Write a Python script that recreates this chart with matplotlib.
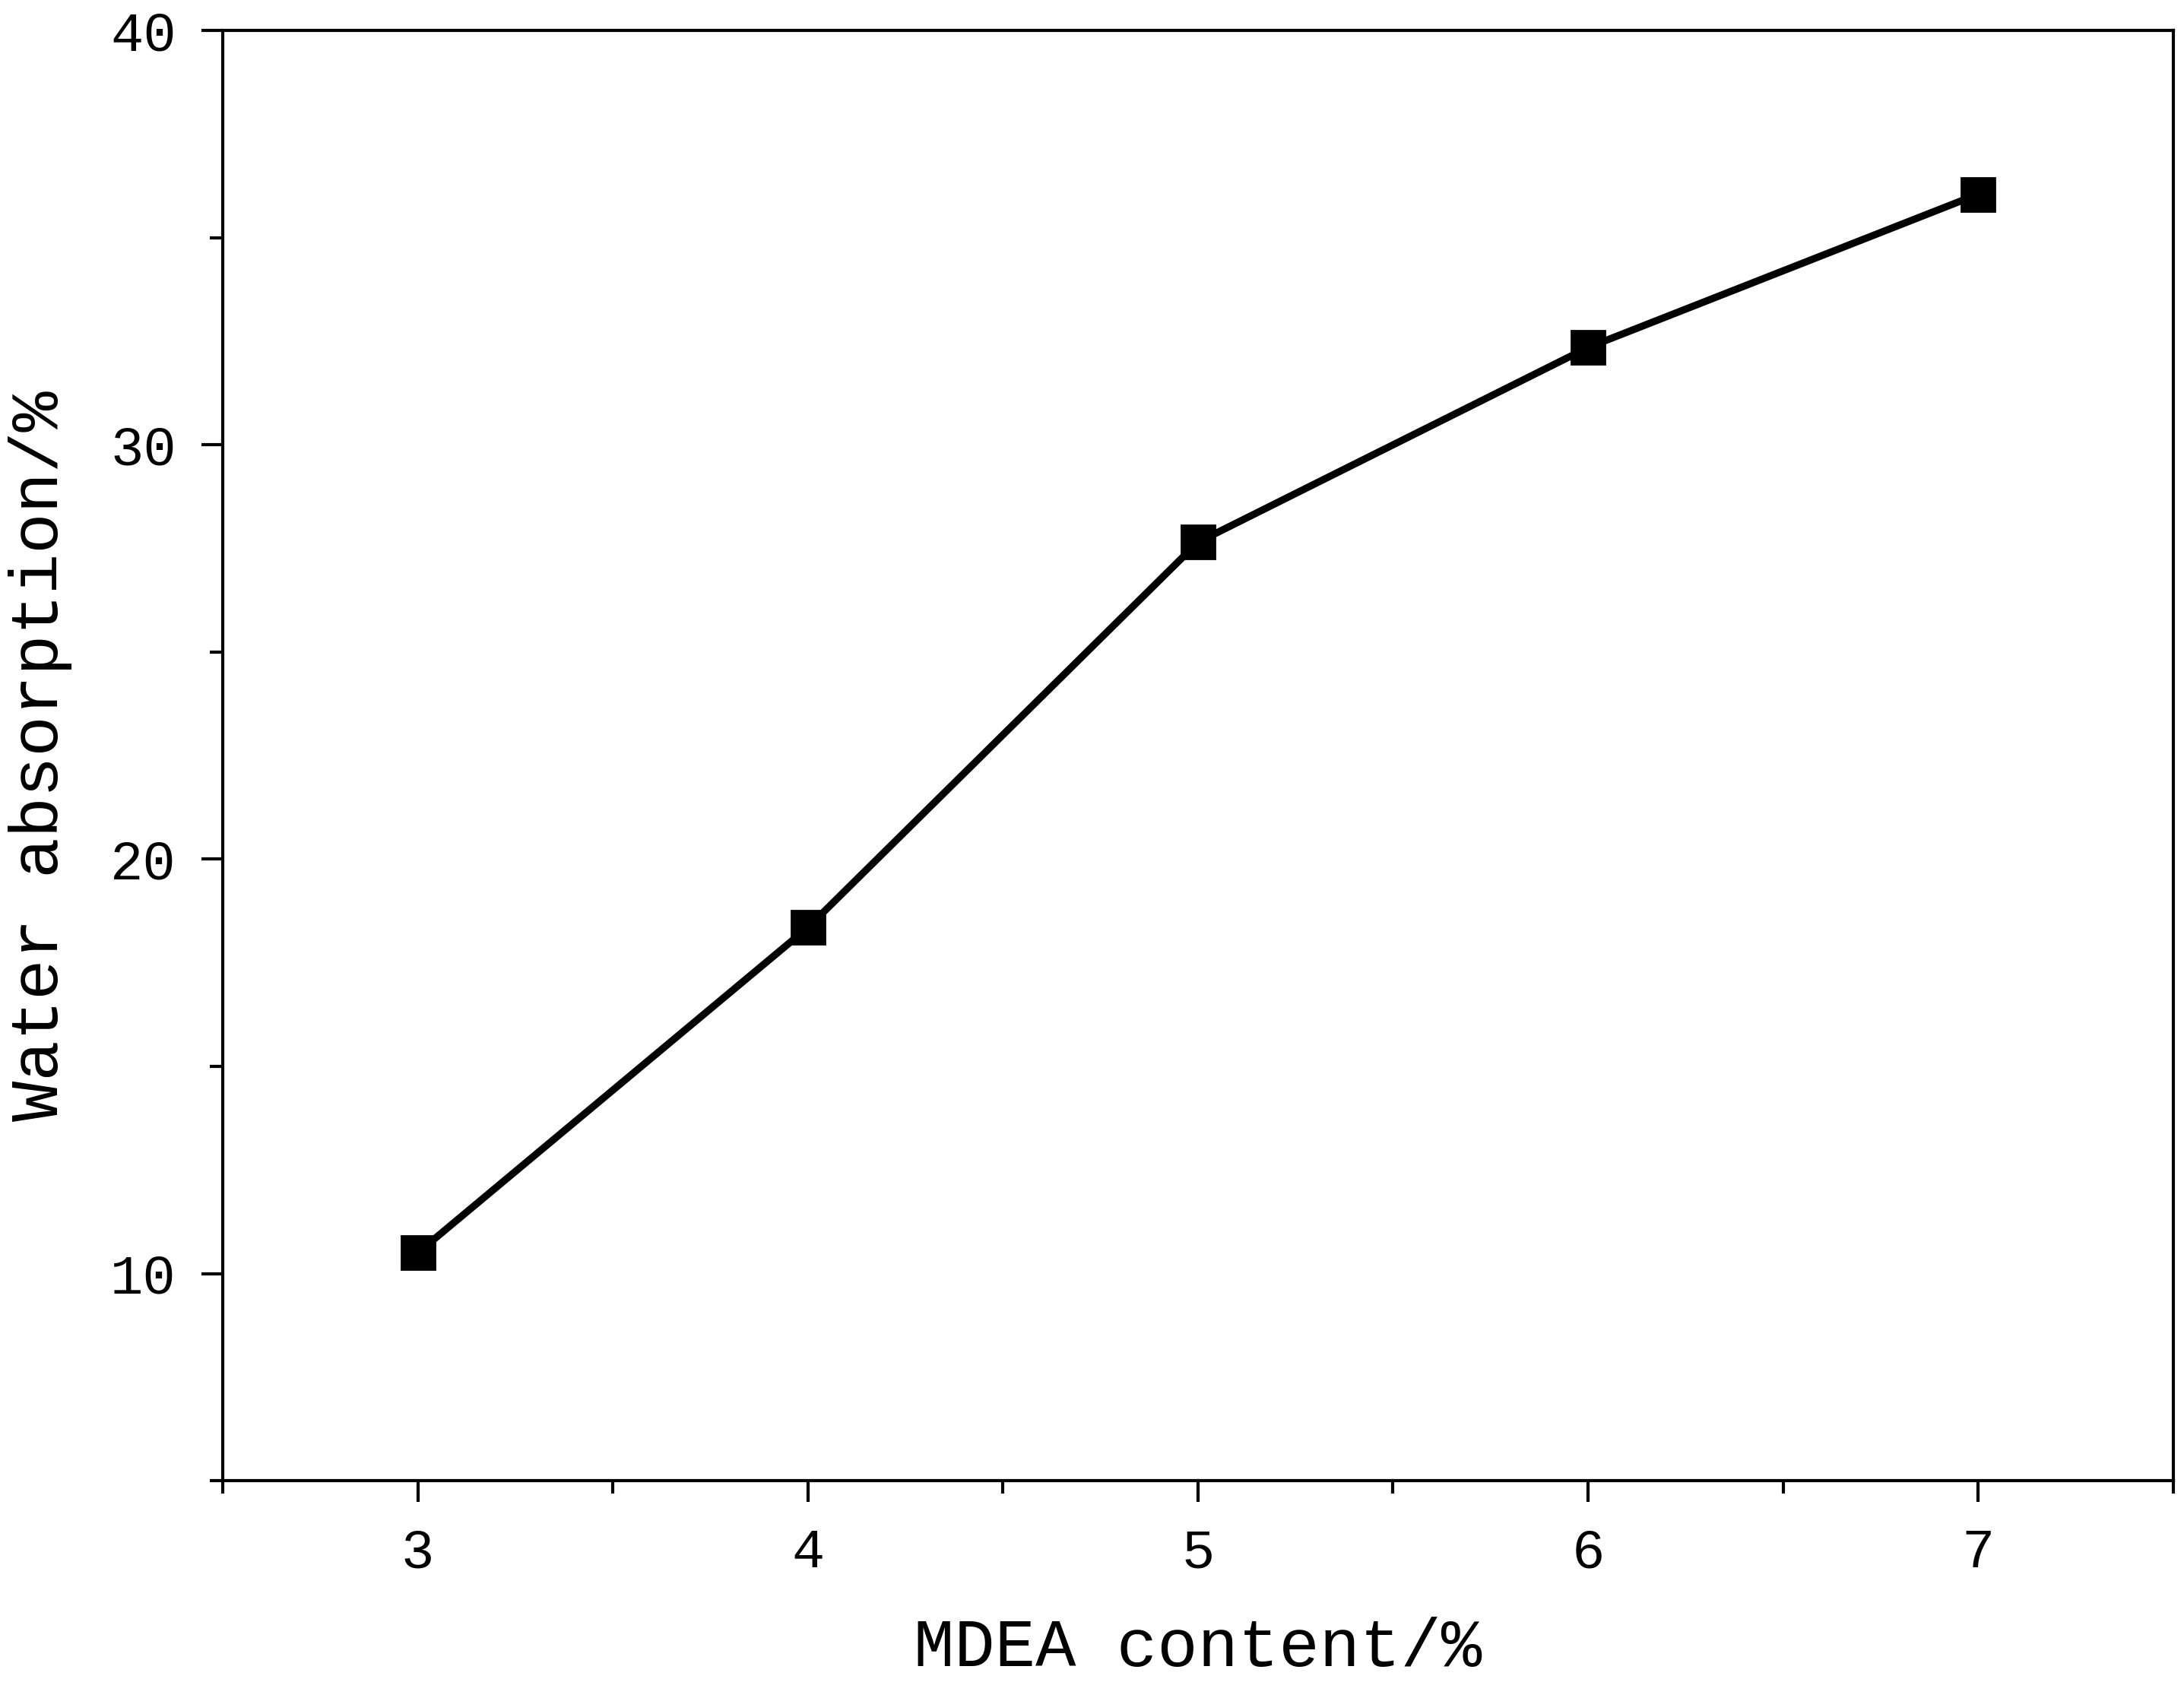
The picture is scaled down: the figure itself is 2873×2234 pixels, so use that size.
import matplotlib
matplotlib.use('Agg')
import matplotlib.pyplot as plt
from matplotlib.ticker import MultipleLocator

mdea_content = [3, 4, 5, 6, 7]
water_absorption = [10.5, 18.35, 27.65, 32.35, 36.05]

plt.rcParams['font.family'] = ['Liberation Mono', 'DejaVu Sans Mono']

fig = plt.figure(figsize=(14.365, 11.17), dpi=200)
ax = fig.add_axes([0.102, 0.128, 0.893, 0.854])

ax.plot(mdea_content, water_absorption, color='black', lw=3.4,
        marker='s', markersize=16, markerfacecolor='black')

ax.set_xlim(2.5, 7.5)
ax.set_ylim(5, 40)
ax.xaxis.set_major_locator(MultipleLocator(1))
ax.xaxis.set_minor_locator(MultipleLocator(0.5))
ax.yaxis.set_major_locator(MultipleLocator(10))
ax.yaxis.set_minor_locator(MultipleLocator(5))
ax.tick_params(which='both', direction='out', width=1.5, labelsize=26,
               top=False, right=False)
ax.tick_params(which='major', length=10, pad=12)
ax.tick_params(which='minor', length=6)
for s in ax.spines.values():
    s.set_linewidth(1.5)

ax.set_xlabel('MDEA content/%', fontsize=32, labelpad=18)
ax.set_ylabel('Water absorption/%', fontsize=32, labelpad=18)

fig.savefig('out.png', dpi=200)
